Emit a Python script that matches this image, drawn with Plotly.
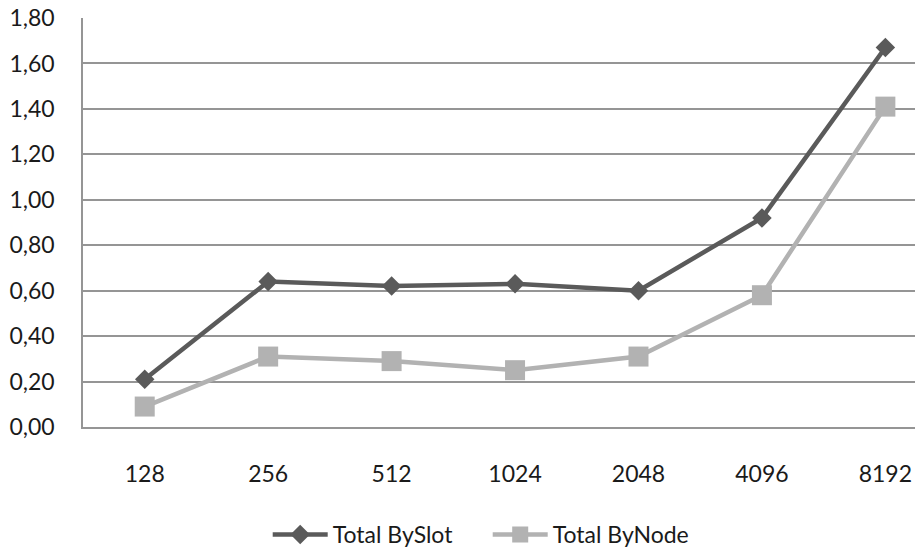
import plotly.graph_objects as go

# Problem sizes on the category axis
sizes = ["128", "256", "512", "1024", "2048", "4096", "8192"]

# Total times per placement strategy
total_byslot = [0.21, 0.64, 0.62, 0.63, 0.60, 0.92, 1.67]
total_bynode = [0.09, 0.31, 0.29, 0.25, 0.31, 0.58, 1.41]

y_ticks = [0.0, 0.2, 0.4, 0.6, 0.8, 1.0, 1.2, 1.4, 1.6, 1.8]
y_labels = [f"{v:.2f}".replace(".", ",") for v in y_ticks]

FONT = "Lato, 'Open Sans', sans-serif"
GRID = "#959595"
FS = 23

fig = go.Figure()
fig.add_trace(go.Scatter(
    x=sizes, y=total_byslot, name="Total BySlot", mode="lines+markers",
    line=dict(color="#5a5a5a", width=4.5),
    marker=dict(symbol="diamond", size=15, color="#5a5a5a"),
))
fig.add_trace(go.Scatter(
    x=sizes, y=total_bynode, name="Total ByNode", mode="lines+markers",
    line=dict(color="#b2b2b2", width=4.5),
    marker=dict(symbol="square", size=20, color="#b2b2b2"),
))

fig.update_layout(
    width=915, height=556,
    margin=dict(l=83, r=0, t=18, b=128),
    paper_bgcolor="white", plot_bgcolor="white",
    font=dict(family=FONT, size=FS, color="#1a1a1a"),
    showlegend=True,
    legend=dict(orientation="h", x=0.222, xanchor="left", y=-0.262, yanchor="middle",
                font=dict(size=FS), traceorder="normal", itemwidth=55,
                entrywidth=150, entrywidthmode="pixels"),
)
fig.update_xaxes(
    type="category", range=[-0.5, 6.24],
    showgrid=False, showline=True, linecolor=GRID, linewidth=1.5,
    ticks="", tickfont=dict(size=FS), ticklabelstandoff=26,
)
fig.update_yaxes(
    range=[0, 1.8], tickvals=y_ticks, ticktext=y_labels,
    showgrid=True, gridcolor=GRID, gridwidth=1.5,
    showline=True, linecolor=GRID, linewidth=1.5, zeroline=False,
    ticks="", tickfont=dict(size=FS), ticklabelstandoff=22,
)

fig.write_html("out.html")
